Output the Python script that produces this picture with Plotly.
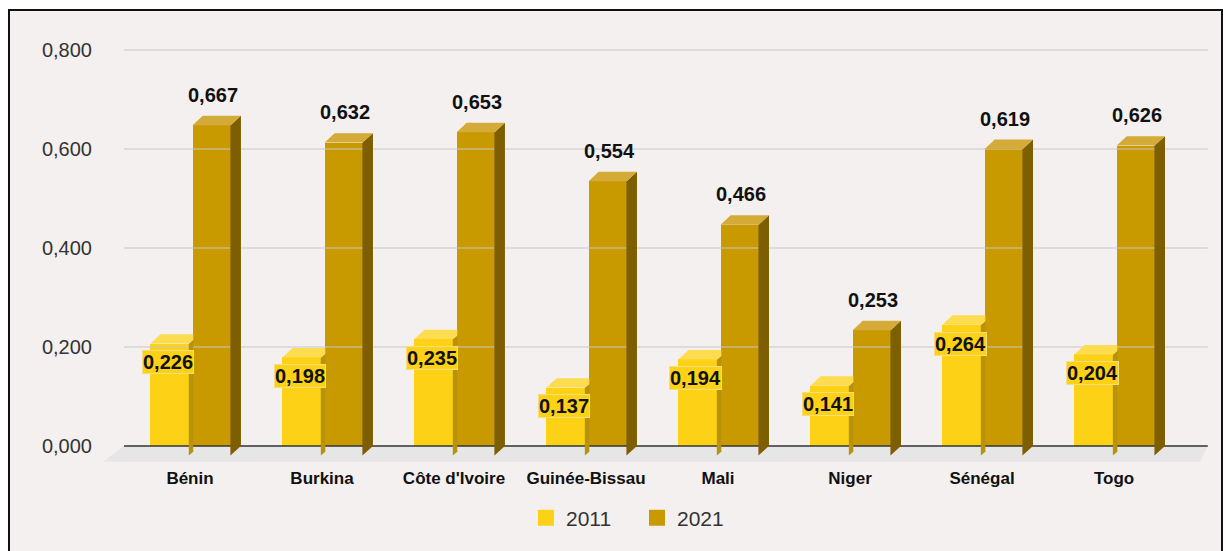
import plotly.graph_objects as go

# ---- data ----
categories = ["Bénin", "Burkina", "Côte d'Ivoire", "Guinée-Bissau", "Mali", "Niger", "Sénégal", "Togo"]
values_2011 = [0.226, 0.198, 0.235, 0.137, 0.194, 0.141, 0.264, 0.204]
values_2021 = [0.667, 0.632, 0.653, 0.554, 0.466, 0.253, 0.619, 0.626]
series_names = ["2011", "2021"]
y_ticks = [0.0, 0.2, 0.4, 0.6, 0.8]
y_ticktext = ["0,000", "0,200", "0,400", "0,600", "0,800"]

# ---- style / geometry ----
FONT = "Liberation Sans, Arial, sans-serif"
BG = "#F3F0EF"
C11 = dict(front="#FCD116", top="#FDDC50", side="#B8920A")
C21 = dict(front="#C99A00", top="#D4AA38", side="#7D5E00")
DX = 0.076   # depth in x units
DY = 0.019   # depth in y units
OFF11 = (-0.30, -0.005)
OFF21 = (0.02, 0.31)
XR = [-0.659, 7.742]
YR = [-0.0343, 0.8202]

def fmt(v):
    return f"{v:.3f}".replace(".", ",")

n = len(categories)
xs = list(range(n))

fig = go.Figure()

# floor
x_back0, x_back1 = -0.5, 7.71
fig.add_trace(go.Scatter(
    x=[x_back0, x_back1, x_back1 - 0.06, x_back0 - 0.16, x_back0],
    y=[0, 0, -0.032, -0.032, 0],
    fill="toself", fillcolor="#E7E6E6", line=dict(width=0), mode="lines",
    hoverinfo="skip", showlegend=False))

# gridlines on the back wall
for t in y_ticks:
    fig.add_trace(go.Scatter(
        x=[x_back0, x_back1], y=[t, t], mode="lines",
        line=dict(color="#333333" if t == 0 else "#C9C6C6", width=1.5 if t == 0 else 1.2),
        hoverinfo="skip", showlegend=False))

def faces(vals, off, colors, clip_to=None):
    sx, sy, tx, ty = [], [], [], []
    for i, v in zip(xs, vals):
        x0, x1 = i + off[0], i + off[1]
        xe = x1 + DX if clip_to is None else i + clip_to + 0.005
        t = (xe - x1) / DX
        # side face
        sx += [x1 - 0.004, x1 - 0.004, xe, xe, x1 - 0.004, None]
        sy += [-DY, v - DY, v - DY + DY * t, -DY + DY * t, -DY, None]
        # top face
        if clip_to is None:
            tx += [x0, x1, x1 + DX, x0 + DX, x0, None]
            ty += [v - DY, v - DY, v, v, v - DY, None]
        else:
            tx += [x0, x1, xe, xe, x0 + DX, x0, None]
            ty += [v - DY, v - DY, v - DY + DY * t, v, v, v - DY, None]
    fig.add_trace(go.Scatter(x=sx, y=sy, fill="toself", fillcolor=colors["side"],
                             line=dict(width=0), mode="lines", hoverinfo="skip", showlegend=False))
    fig.add_trace(go.Scatter(x=tx, y=ty, fill="toself", fillcolor=colors["top"],
                             line=dict(width=0), mode="lines", hoverinfo="skip", showlegend=False))

faces(values_2011, OFF11, C11, clip_to=OFF21[0])
faces(values_2021, OFF21, C21)

# front faces (bars)
for vals, off, col, name in [(values_2011, OFF11, C11, series_names[0]),
                             (values_2021, OFF21, C21, series_names[1])]:
    fig.add_trace(go.Bar(
        x=[i + (off[0] + off[1]) / 2 for i in xs], y=vals, base=-DY,
        width=off[1] - off[0], marker=dict(color=col["front"], line=dict(width=0)),
        name=name, showlegend=False, hoverinfo="skip"))

# legend entries
for name, col in [(series_names[0], C11["front"]), (series_names[1], C21["front"])]:
    fig.add_trace(go.Scatter(x=[None], y=[None], mode="markers", name=name,
                             marker=dict(symbol="square", size=20, color=col)))

# data labels
for i, v in zip(xs, values_2021):
    fig.add_annotation(x=i + (OFF21[0] + OFF21[1]) / 2 + 0.01, y=v + 0.0424, text=fmt(v),
                       showarrow=False, yanchor="middle",
                       font=dict(family=FONT, size=20, color="#111111", weight="bold"))
for i, v in zip(xs, values_2011):
    fig.add_annotation(x=i - 0.167, y=v - 0.057, text=fmt(v),
                       showarrow=False, yanchor="middle",
                       bgcolor="#FCD116", bordercolor="#F3DE80", borderwidth=1, borderpad=0,
                       font=dict(family=FONT, size=20, color="#111111", weight="bold"))

# frame
L, R, T, B = 103, 1212, 40, 463
W, H = R - L, B - T
def px(xp): return (xp - L) / W
def py(yp): return (B - yp) / H
fig.add_shape(type="rect", xref="paper", yref="paper", layer="below",
              x0=px(9), x1=px(1222), y0=py(553), y1=py(10),
              fillcolor=BG, line=dict(color="#111111", width=2))

fig.update_layout(
    width=1226, height=551,
    margin=dict(l=L, r=1226 - R, t=T, b=551 - B),
    paper_bgcolor="white", plot_bgcolor="rgba(0,0,0,0)",
    barmode="overlay", bargap=0,
    font=dict(family=FONT),
    showlegend=True,
    legend=dict(orientation="h", x=px(637), xanchor="center", y=py(518), yanchor="middle",
                font=dict(family=FONT, size=21, color="#333333"), bgcolor="rgba(0,0,0,0)",
                itemsizing="trace", entrywidth=66),
    xaxis=dict(range=XR, tickvals=xs, ticktext=categories, showgrid=False, zeroline=False,
               showline=False, ticks="outside", ticklen=0, tickcolor="rgba(0,0,0,0)",
               tickfont=dict(family=FONT, size=17, color="#111111", weight="bold")),
    yaxis=dict(range=YR, tickvals=y_ticks, ticktext=y_ticktext, showgrid=False, zeroline=False,
               showline=False, ticks="outside", ticklen=6, tickcolor="rgba(0,0,0,0)",
               tickfont=dict(family=FONT, size=20, color="#333333")),
)

fig.write_html("out.html")
